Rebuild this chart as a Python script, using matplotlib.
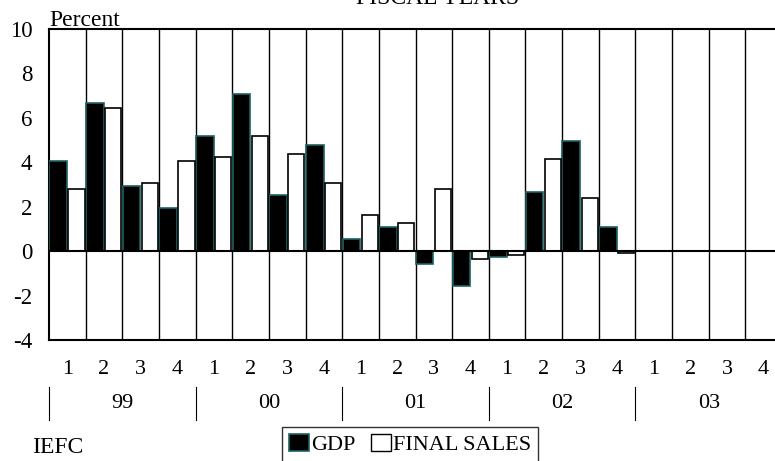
import matplotlib
matplotlib.use('Agg')
import matplotlib.pyplot as plt
from matplotlib.patches import Patch
from matplotlib.lines import Line2D
from matplotlib.transforms import blended_transform_factory

plt.rcParams['font.family'] = ['Liberation Serif', 'DejaVu Serif']

years = ['99', '00', '01', '02', '03']
quarters = ['1', '2', '3', '4'] * 5
gdp = [4.05, 6.67, 2.94, 1.95, 5.18, 7.06, 2.54, 4.77,
       0.56, 1.08, -0.59, -1.56, -0.27, 2.67, 4.97, 1.08,
       None, None, None, None]
final_sales = [2.78, 6.46, 3.08, 4.07, 4.25, 5.18, 4.37, 3.08,
               1.64, 1.25, 2.78, -0.36, -0.18, 4.16, 2.37, -0.07,
               None, None, None, None]

W, H = 775, 461
fig = plt.figure(figsize=(W / 100, H / 100), dpi=100)
ax = fig.add_axes([49 / W, 1 - 340 / H, 733 / W, 311 / H])

idx = list(range(len(quarters)))
gx = [i + 0.01 for i in idx if gdp[i] is not None]
gv = [gdp[i] for i in idx if gdp[i] is not None]
fx = [i + 0.53 for i in idx if final_sales[i] is not None]
fv = [final_sales[i] for i in idx if final_sales[i] is not None]
ax.bar(gx, gv, width=0.48, align='edge', color='black', edgecolor='#1d6262', linewidth=1.2, zorder=3)
ax.bar(fx, fv, width=0.44, align='edge', color='white', edgecolor='black', linewidth=1.2, zorder=3)

for i in range(1, len(quarters)):
    ax.axvline(i, color='black', lw=1, zorder=1)
ax.axhline(0, color='black', lw=1.5, zorder=4)

ax.set_xlim(0, len(quarters))
ax.set_ylim(-4, 10)
ax.set_yticks(range(-4, 11, 2))
ax.set_yticklabels([str(v) for v in range(-4, 11, 2)])
ax.tick_params(axis='y', length=0, pad=12, labelsize=16.5)
ax.set_xticks([])
for s in ['left', 'top', 'bottom']:
    ax.spines[s].set_linewidth(1.5)
ax.spines['right'].set_visible(False)

tr = blended_transform_factory(ax.transData, fig.transFigure)
for i, q in enumerate(quarters):
    fig.text(i + 0.5, 1 - 369 / H, q, transform=tr, ha='center', va='center', fontsize=16)
for k, y in enumerate(years):
    fig.text(k * 4 + 2, 1 - 403 / H, y, transform=tr, ha='center', va='center', fontsize=16)
    fig.add_artist(Line2D([k * 4, k * 4], [1 - 387 / H, 1 - 420 / H], transform=tr, color='black', lw=0.8))

fig.text(49 / W, 1 - 26 / H, 'Percent', ha='left', va='baseline', fontsize=17)
fig.text(438 / W, 1 - 4 / H, 'FISCAL YEARS', ha='center', va='baseline', fontsize=17)
fig.text(32 / W, 1 - 447 / H, 'IEFC', ha='left', va='center', fontsize=17)

handles = [Patch(facecolor='black', edgecolor='#1d6262', linewidth=1.2),
           Patch(facecolor='white', edgecolor='black', linewidth=1)]
leg = fig.legend(handles, ['GDP', 'FINAL SALES'], loc='upper left',
                 bbox_to_anchor=(282 / W, 1 - 427 / H), ncol=2, fontsize=16,
                 frameon=True, fancybox=False, edgecolor='black', borderpad=0.3,
                 handlelength=0.9, handleheight=0.8, handletextpad=0.1,
                 columnspacing=0.7, borderaxespad=0)
leg.get_frame().set_linewidth(1)

fig.savefig('out.png', dpi=100)
